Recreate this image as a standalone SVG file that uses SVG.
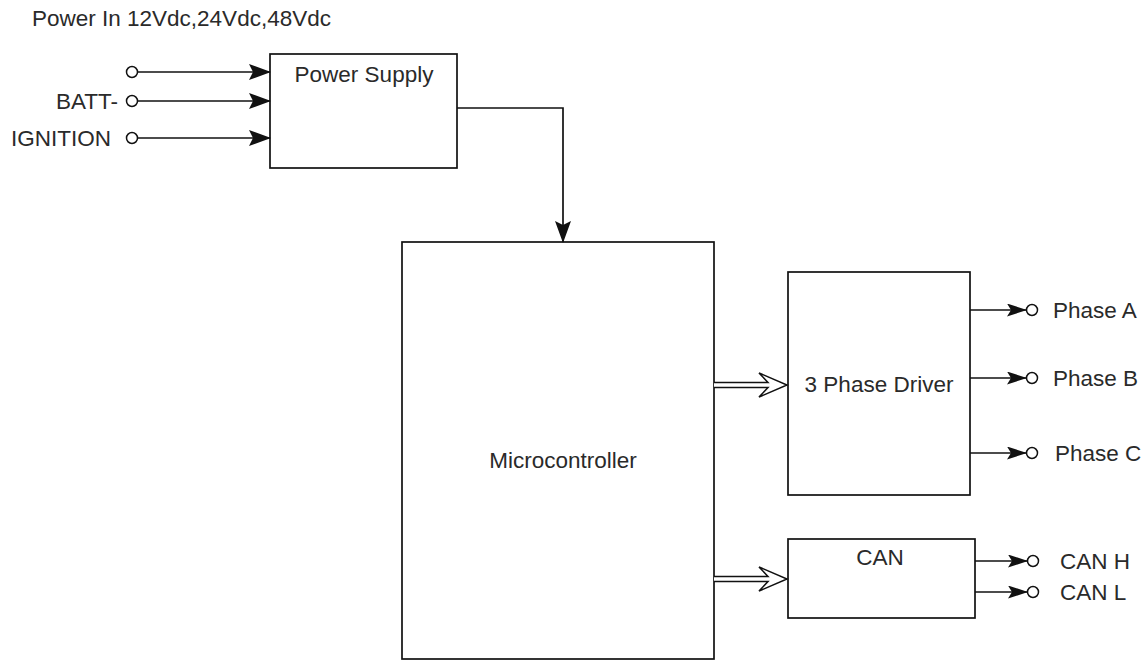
<svg xmlns="http://www.w3.org/2000/svg" width="1145" height="660" viewBox="0 0 1145 660">
<defs>
<style>
.box{fill:#fff;stroke:#111;stroke-width:1.7}
.ln{fill:none;stroke:#111;stroke-width:1.7}
.term{fill:#fff;stroke:#111;stroke-width:1.5}
.t{font-family:"Liberation Sans",Arial,sans-serif;font-size:22.5px;fill:#2a2a2a}
.c{text-anchor:middle}
.e{text-anchor:end}
.hollow{fill:#fff;stroke:#111;stroke-width:1.5;stroke-linejoin:miter}
</style>
<marker id="arr" viewBox="0 0 22 16" refX="21" refY="8" markerWidth="22" markerHeight="16" markerUnits="userSpaceOnUse" orient="auto">
<path d="M0,0 L22,8 L0,16 L4,8 z" fill="#111"/>
</marker>
<marker id="arrS" viewBox="0 0 20 13" refX="19" refY="6.5" markerWidth="20" markerHeight="13" markerUnits="userSpaceOnUse" orient="auto">
<path d="M0,0 L20,6.5 L0,13 L4,6.5 z" fill="#111"/>
</marker>
</defs>
<rect width="1145" height="660" fill="#fff"/>

<text class="t" x="32" y="26">Power In 12Vdc,24Vdc,48Vdc</text>

<g id="power-supply">
<rect class="box" x="270" y="54" width="187" height="114"/>
<text class="t c" x="364" y="82">Power Supply</text>
</g>

<g id="microcontroller">
<rect class="box" x="402" y="242" width="312" height="417"/>
<text class="t c" x="563" y="468">Microcontroller</text>
</g>

<g id="driver">
<rect class="box" x="788" y="272" width="182" height="223"/>
<text class="t c" x="879" y="392">3 Phase Driver</text>
</g>

<g id="can">
<rect class="box" x="788" y="539" width="187" height="79"/>
<text class="t c" x="880" y="565">CAN</text>
</g>

<g id="inputs">
<circle class="term" cx="132" cy="72" r="5.5"/>
<circle class="term" cx="132" cy="101" r="5.5"/>
<circle class="term" cx="132" cy="138" r="5.5"/>
<text class="t e" x="118" y="109">BATT-</text>
<text class="t e" x="111" y="146">IGNITION</text>
</g>

<g id="outputs">
<circle class="term" cx="1032" cy="310" r="5.5"/>
<circle class="term" cx="1032" cy="378" r="5.5"/>
<circle class="term" cx="1032" cy="453" r="5.5"/>
<circle class="term" cx="1033" cy="561" r="5.5"/>
<circle class="term" cx="1033" cy="592" r="5.5"/>
<text class="t" x="1053" y="318">Phase A</text>
<text class="t" x="1053" y="386">Phase B</text>
<text class="t" x="1055" y="461">Phase C</text>
<text class="t" x="1060" y="569">CAN H</text>
<text class="t" x="1060" y="600">CAN L</text>
</g>

<g id="connectors">
<line class="ln" x1="138" y1="72" x2="270" y2="72" marker-end="url(#arr)"/>
<line class="ln" x1="138" y1="101" x2="270" y2="101" marker-end="url(#arr)"/>
<line class="ln" x1="138" y1="138" x2="270" y2="138" marker-end="url(#arr)"/>
<polyline class="ln" points="457,108 563,108 563,242" marker-end="url(#arr)"/>

<line class="ln" x1="970" y1="310" x2="1026" y2="310" marker-end="url(#arrS)"/>
<line class="ln" x1="970" y1="378" x2="1026" y2="378" marker-end="url(#arrS)"/>
<line class="ln" x1="970" y1="453" x2="1026" y2="453" marker-end="url(#arrS)"/>
<line class="ln" x1="975" y1="561" x2="1027" y2="561" marker-end="url(#arrS)"/>
<line class="ln" x1="975" y1="592" x2="1027" y2="592" marker-end="url(#arrS)"/>

<path class="hollow" d="M714,382.5 L768,382.5 L759,373 L787,385 L759,397 L768,387.5 L714,387.5"/>
<path class="hollow" d="M714,576.5 L768,576.5 L759,567 L787,579 L759,591 L768,581.5 L714,581.5"/>
</g>
</svg>
